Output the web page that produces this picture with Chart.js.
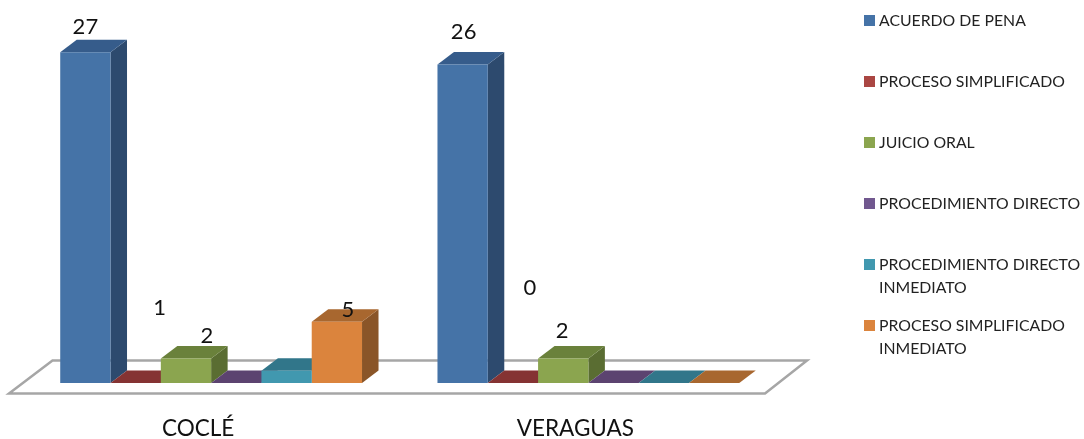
<!DOCTYPE html>
<html lang="es">
<head>
<meta charset="utf-8">
<title>Procesos por provincia</title>
<script src="https://cdn.jsdelivr.net/npm/chart.js@4"></script>
<style>
  html, body { margin: 0; padding: 0; background: #fff; }
  #wrap { width: 1084px; height: 439px; }
</style>
</head>
<body>
<div id="wrap"><canvas id="chart" width="1084" height="439"></canvas></div>
<script>
// ===== Data =====
const categories = ['COCLÉ', 'VERAGUAS'];
const seriesNames = [
  'ACUERDO DE PENA',
  'PROCESO SIMPLIFICADO',
  'JUICIO ORAL',
  'PROCEDIMIENTO DIRECTO',
  'PROCEDIMIENTO DIRECTO INMEDIATO',
  'PROCESO SIMPLIFICADO INMEDIATO'
];
const acuerdoDePena = [27, 26];
const procesoSimplificado = [0, 0];
const juicioOral = [2, 2];
const procedimientoDirecto = [0, 0];
const directoInmediato = [1, 0];
const simplificadoInmediato = [5, 0];

// printed labels, one row per series (the picture's labels do not all sit on their own bar)
const printedLabels = [
  ['27', '26'],
  ['1', '0'],
  ['2', '2'],
  ['', ''],
  ['', ''],
  ['5', '']
];

// ===== Styles =====
const FONT = 'Lato, "Open Sans", sans-serif';
const frontColors = ['#4573a7', '#aa4643', '#8ba54f', '#71588f', '#4198af', '#db843d'];
const topColors = ['#365c8b', '#853333', '#6a813b', '#5c4370', '#31768a', '#a8672f'];
const sideColors = ['#2d4a6e', '#6b2a2a', '#5a6d32', '#483558', '#275f70', '#8a5528'];
const DEPTH_X = 16.5;
const DEPTH_Y = 12.5;

// label nudges from the top centre of the bar: [dx, dy]
const labelOffsets = [
  [[0, -25], [1, -33]],
  [[24, -75], [17, -95]],
  [[21, -23], [-1, -28]],
  [[0, 0], [0, 0]],
  [[0, 0], [0, 0]],
  [[11, -12], [0, 0]]
];

function fillPoly(ctx, color, pts) {
  ctx.fillStyle = color;
  ctx.beginPath();
  pts.forEach((p, i) => (i ? ctx.lineTo(p[0], p[1]) : ctx.moveTo(p[0], p[1])));
  ctx.closePath();
  ctx.fill();
}

// ===== Floor and the top/side faces, drawn before the bar fronts =====
const depthPlugin = {
  id: 'depth',
  beforeDatasetsDraw(chart) {
    const { ctx, chartArea, scales } = chart;
    const floorY = scales.y.getPixelForValue(0);
    ctx.save();
    ctx.strokeStyle = '#a6a6a6';
    ctx.lineWidth = 2.5;
    ctx.beginPath();
    ctx.moveTo(chartArea.left - 13.5, floorY + 10.5);
    ctx.lineTo(chartArea.right - 12, floorY + 10.5);
    ctx.lineTo(chartArea.right + 30, floorY - 22.5);
    ctx.lineTo(chartArea.left + 30, floorY - 22.5);
    ctx.closePath();
    ctx.stroke();

    seriesNames.forEach((name, i) => {
      chart.getDatasetMeta(i).data.forEach(bar => {
        const { x, y, base, width } = bar.getProps(['x', 'y', 'base', 'width'], true);
        const l = x - width / 2;
        const r = x + width / 2;
        fillPoly(ctx, sideColors[i], [[r, y], [r + DEPTH_X, y - DEPTH_Y], [r + DEPTH_X, base - DEPTH_Y], [r, base]]);
        fillPoly(ctx, topColors[i], [[l, y], [r, y], [r + DEPTH_X, y - DEPTH_Y], [l + DEPTH_X, y - DEPTH_Y]]);
      });
    });
    ctx.restore();
  }
};

// ===== Printed value labels =====
const labelPlugin = {
  id: 'printedLabels',
  afterDatasetsDraw(chart) {
    const { ctx } = chart;
    ctx.save();
    ctx.font = '22px ' + FONT;
    ctx.fillStyle = '#111';
    ctx.textAlign = 'center';
    ctx.textBaseline = 'middle';
    printedLabels.forEach((row, s) => {
      const bars = chart.getDatasetMeta(s).data;
      row.forEach((text, c) => {
        if (!text) return;
        const off = labelOffsets[s][c];
        ctx.fillText(text, bars[c].x + off[0], bars[c].y + off[1]);
      });
    });
    ctx.restore();
  }
};

// ===== Legend on the right, wraps long names =====
const legendPlugin = {
  id: 'sideLegend',
  afterDraw(chart) {
    const { ctx } = chart;
    ctx.save();
    ctx.font = '15.8px ' + FONT;
    ctx.textBaseline = 'middle';
    seriesNames.forEach((name, i) => {
      const rowY = 20.5 + i * 61;
      ctx.fillStyle = frontColors[i];
      ctx.fillRect(864, rowY - 5.5, 11, 11);
      ctx.fillStyle = '#222';
      let line = '';
      let y = rowY;
      name.split(' ').forEach(word => {
        const next = line ? line + ' ' + word : word;
        if (line && ctx.measureText(next).width > 205) {
          ctx.fillText(line, 879, y);
          y += 23;
          line = word;
        } else {
          line = next;
        }
      });
      ctx.fillText(line, 879, y);
    });
    ctx.restore();
  }
};

// ===== Chart =====
const seriesValues = [acuerdoDePena, procesoSimplificado, juicioOral, procedimientoDirecto, directoInmediato, simplificadoInmediato];

new Chart(document.getElementById('chart').getContext('2d'), {
  type: 'bar',
  data: {
    labels: categories,
    datasets: seriesNames.map((name, i) => ({
      label: name,
      data: seriesValues[i],
      backgroundColor: frontColors[i],
      categoryPercentage: 0.8,
      barPercentage: 1
    }))
  },
  options: {
    responsive: false,
    animation: false,
    layout: { padding: { left: 22.5, right: 307, top: 15.5, bottom: 0 } },
    plugins: { legend: { display: false }, tooltip: { enabled: false } },
    scales: {
      x: {
        grid: { display: false },
        border: { display: false },
        afterFit: scale => { scale.height = 56; },
        ticks: { color: '#111', padding: 24, labelOffset: -13, font: { size: 22.5, family: FONT } }
      },
      y: { display: false, min: 0, max: 30 }
    }
  },
  plugins: [depthPlugin, labelPlugin, legendPlugin]
});
</script>
</body>
</html>
